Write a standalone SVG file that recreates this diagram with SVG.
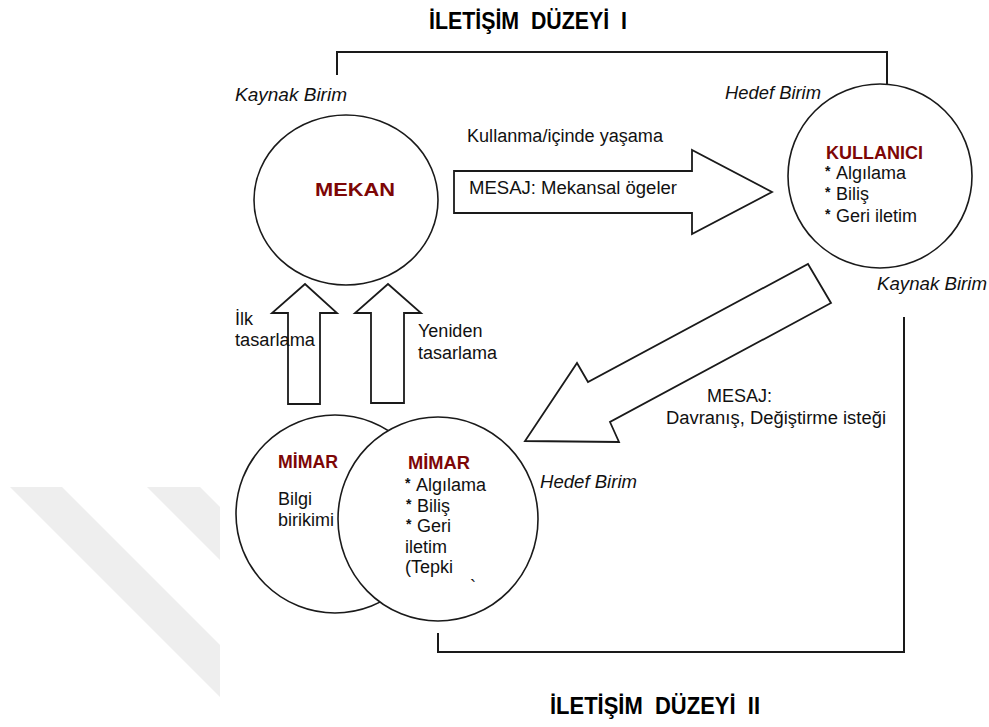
<svg xmlns="http://www.w3.org/2000/svg" width="989" height="727" viewBox="0 0 989 727">
<style>
text{font-family:"Liberation Sans",Arial,sans-serif;font-size:18px;fill:#111;}
.title{font-family:"Liberation Sans Narrow","Liberation Sans",Arial,sans-serif;font-weight:bold;font-size:23px;fill:#000;}
.it{font-style:italic;}
.red{fill:#7d0606;font-weight:bold;}
.bul{font-size:14px;font-weight:bold;}
.node{fill:#fff;stroke:#1a1a1a;stroke-width:1.6;}
.arrow{fill:#fff;stroke:#1a1a1a;stroke-width:1.8;stroke-linejoin:miter;}
.line{fill:none;stroke:#1a1a1a;stroke-width:2;}
.wm{fill:#eeeeee;}
</style>
<rect width="989" height="727" fill="#fff"/>
<g id="watermark">
<polygon class="wm" points="10,487 62,487 220,645 220,697"/>
<polygon class="wm" points="147,487 200,487 220,507 220,560"/>
</g>
<g id="titles">
<text class="title" x="429" y="29" textLength="198" lengthAdjust="spacingAndGlyphs" xml:space="preserve">İLETİŞİM  DÜZEYİ  I</text>
<text class="title" x="550" y="714" textLength="210" lengthAdjust="spacingAndGlyphs" xml:space="preserve">İLETİŞİM  DÜZEYİ  II</text>
</g>
<g id="connectors">
<polyline class="line" points="337,75 337,52 887,52 887,84"/>
<polyline class="line" points="904,317 904,652 438,652 438,633"/>
<polygon class="arrow" points="454,171 692,171 692,150 772,192 692,234 692,213 454,213"/>
<polygon class="arrow" points="288,404 288,313 272,313 305,284 337,313 320,313 320,404"/>
<polygon class="arrow" points="371,403 371,313 355,313 388,284 421,313 404,313 404,403"/>
<polygon class="arrow" points="808,264 831,303 610,422 619,442 525,441 577,363 588,382"/>
</g>
<g id="labels">
<text x="467" y="142" textLength="196" lengthAdjust="spacingAndGlyphs">Kullanma/içinde yaşama</text>
<text x="469" y="194" textLength="208" lengthAdjust="spacingAndGlyphs">MESAJ: Mekansal ögeler</text>
<text x="235" y="325">İlk</text>
<text x="235" y="346" textLength="80" lengthAdjust="spacingAndGlyphs">tasarlama</text>
<text x="418" y="337">Yeniden</text>
<text x="418" y="359" textLength="79" lengthAdjust="spacingAndGlyphs">tasarlama</text>
<text x="707" y="402">MESAJ:</text>
<text x="666" y="424" textLength="220" lengthAdjust="spacingAndGlyphs">Davranış, Değiştirme isteği</text>
<text class="it" x="235" y="101" textLength="112" lengthAdjust="spacingAndGlyphs">Kaynak Birim</text>
<text class="it" x="725" y="99" textLength="96" lengthAdjust="spacingAndGlyphs">Hedef Birim</text>
<text class="it" x="877" y="290" textLength="110" lengthAdjust="spacingAndGlyphs">Kaynak Birim</text>
<text class="it" x="540" y="488" textLength="97" lengthAdjust="spacingAndGlyphs">Hedef Birim</text>
</g>
<g id="mekan">
<ellipse class="node" cx="346" cy="200" rx="92" ry="85"/>
<text class="red" x="315" y="196" font-size="21" textLength="80" lengthAdjust="spacingAndGlyphs">MEKAN</text>
</g>
<g id="kullanici">
<circle class="node" cx="880" cy="176" r="92"/>
<text class="red" x="826" y="159" textLength="97" lengthAdjust="spacingAndGlyphs">KULLANICI</text>
<text y="179"><tspan class="bul" x="825" dy="-3">*</tspan><tspan x="836" dy="3">Algılama</tspan></text>
<text y="200"><tspan class="bul" x="825" dy="-3">*</tspan><tspan x="836" dy="3">Biliş</tspan></text>
<text y="222"><tspan class="bul" x="825" dy="-3">*</tspan><tspan x="836" dy="3">Geri iletim</tspan></text>
</g>
<g id="mimar1">
<circle class="node" cx="335" cy="514" r="99"/>
<text class="red" x="278" y="468" textLength="60" lengthAdjust="spacingAndGlyphs">MİMAR</text>
<text x="278" y="505">Bilgi</text>
<text x="278" y="526">birikimi</text>
</g>
<g id="mimar2">
<ellipse class="node" cx="438" cy="519" rx="100" ry="102"/>
<text class="red" x="408" y="469" textLength="62" lengthAdjust="spacingAndGlyphs">MİMAR</text>
<text y="491"><tspan class="bul" x="405" dy="-3">*</tspan><tspan x="416" dy="3">Algılama</tspan></text>
<text y="512"><tspan class="bul" x="406" dy="-3">*</tspan><tspan x="417" dy="3">Biliş</tspan></text>
<text y="532"><tspan class="bul" x="406" dy="-3">*</tspan><tspan x="417" dy="3">Geri</tspan></text>
<text x="405" y="553">iletim</text>
<text x="405" y="573">(Tepki</text>
<text x="470" y="593" font-size="12">`</text>
</g>
</svg>
